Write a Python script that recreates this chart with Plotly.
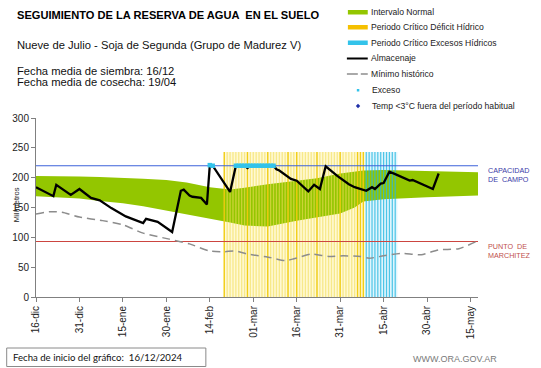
import plotly.graph_objects as go
import pandas as pd

# ---------------- data ----------------
tick_dates = ["2024-12-16", "2024-12-31", "2025-01-15", "2025-01-30", "2025-02-14", "2025-03-01",
              "2025-03-16", "2025-03-31", "2025-04-15", "2025-04-30", "2025-05-15"]
tick_labels = ["16-dic", "31-dic", "15-ene", "30-ene", "14-feb", "01-mar",
               "16-mar", "31-mar", "15-abr", "30-abr", "15-may"]

band_dates = ["2024-12-16", "2024-12-24", "2024-12-31", "2025-01-07", "2025-01-15", "2025-01-22",
              "2025-01-30", "2025-02-06", "2025-02-14", "2025-02-21", "2025-02-26", "2025-03-06",
              "2025-03-16", "2025-03-23", "2025-03-31", "2025-04-05", "2025-04-08", "2025-04-15",
              "2025-04-23", "2025-04-30", "2025-05-10", "2025-05-18"]
band_low = [169, 167, 165, 161, 157, 152, 145, 139, 131, 125, 120, 118,
            128, 133, 140, 150, 160, 164, 166, 167, 169, 170]
band_high = [203, 203, 202, 201, 200, 198, 196, 192, 184, 180, 183, 189,
             195, 199, 207, 210, 212, 213, 212, 211, 209, 209]

alm_dates = ["2024-12-16", "2024-12-22", "2024-12-23", "2024-12-28", "2024-12-31", "2025-01-04",
             "2025-01-07", "2025-01-11", "2025-01-16", "2025-01-20", "2025-01-22", "2025-01-23",
             "2025-01-25", "2025-01-27", "2025-02-01", "2025-02-04", "2025-02-05", "2025-02-07",
             "2025-02-08", "2025-02-09", "2025-02-11", "2025-02-13", "2025-02-14", "2025-02-15",
             "2025-02-21", "2025-02-23", "2025-02-26", "2025-02-27", "2025-02-28", "2025-03-08",
             "2025-03-09", "2025-03-10", "2025-03-14", "2025-03-16", "2025-03-20", "2025-03-22",
             "2025-03-24", "2025-03-26", "2025-03-30", "2025-04-03", "2025-04-05", "2025-04-09",
             "2025-04-11", "2025-04-12", "2025-04-14", "2025-04-15", "2025-04-17", "2025-04-19",
             "2025-04-24", "2025-04-25", "2025-05-02", "2025-05-04"]
alm_vals = [184, 169, 188, 171, 181, 166,
            162, 149, 135, 127, 124, 131,
            128, 126, 109, 178, 180, 170,
            168, 167, 166, 155, 221, 220,
            176, 220, 220, 216, 220, 220,
            214, 212, 198, 195, 177, 188,
            181, 219, 203, 189, 184, 178,
            184, 181, 190, 191, 210, 206,
            195, 196, 181, 207]

min_dates = ["2024-12-16", "2024-12-21", "2024-12-25", "2024-12-31", "2025-01-08", "2025-01-15",
             "2025-01-22", "2025-01-31", "2025-02-07", "2025-02-14", "2025-02-19", "2025-02-23",
             "2025-02-27", "2025-03-07", "2025-03-12", "2025-03-15", "2025-03-21", "2025-03-27",
             "2025-04-01", "2025-04-07", "2025-04-10", "2025-04-15", "2025-04-21", "2025-04-28",
             "2025-05-04", "2025-05-11", "2025-05-17"]
min_vals = [139, 143, 142, 134, 128, 121,
            107, 97, 89, 77, 76, 77,
            72, 66, 61, 64, 72, 68,
            69, 68, 65, 69, 73, 71,
            79, 81, 93]

exceso_dates = ["2025-02-14", "2025-02-15", "2025-02-23", "2025-02-24", "2025-02-25", "2025-02-26",
                "2025-02-27", "2025-02-28", "2025-03-01", "2025-03-02", "2025-03-03", "2025-03-04",
                "2025-03-05", "2025-03-06", "2025-03-07", "2025-03-08"]
exceso_vals = [221, 220, 220, 220, 220, 220, 220, 220, 220, 220, 220, 220, 220, 220, 220, 220]

deficit_start, deficit_end = "2025-02-19", "2025-04-08"
exceso_start, exceso_end = "2025-04-09", "2025-04-19"
deficit_strong = ["2025-02-19", "2025-02-27", "2025-03-06", "2025-03-13", "2025-03-16",
                  "2025-03-23", "2025-03-31", "2025-04-06", "2025-04-07", "2025-04-08"]
period_top = 243

capacidad_campo = 220
punto_marchitez = 93

x_start, x_end = "2024-12-16", "2025-05-17 14:00"

# ---------------- figure ----------------
FONT = "Liberation Sans, Arial, sans-serif"
W, H = 541, 368
L, R, T, B = 33, 478, 118, 297


def px(x):
    return (x - L) / (R - L)


def py(y):
    return (B - y) / (B - T)


fig = go.Figure()


def period_bg(start, end, bg):
    e = pd.Timestamp(end) + pd.Timedelta(hours=18)
    s = pd.Timestamp(start) - pd.Timedelta(hours=6)
    fig.add_trace(go.Scatter(x=[s, s, e, e, s], y=[0, period_top, period_top, 0, 0], mode="lines",
                             fill="toself", fillcolor=bg, line=dict(width=0), showlegend=False,
                             hoverinfo="skip"))


def stripe_lines(days, color, width):
    xs, ys = [], []
    for d in days:
        xs += [d, d, None]
        ys += [0, period_top, None]
    fig.add_trace(go.Scatter(x=xs, y=ys, mode="lines", line=dict(color=color, width=width),
                             showlegend=False, hoverinfo="skip"))


period_bg(deficit_start, deficit_end, "rgba(255,247,200,0.8)")
period_bg(exceso_start, exceso_end, "rgba(215,242,252,0.8)")

# normal interval band
fig.add_trace(go.Scatter(x=band_dates, y=band_low, mode="lines", line=dict(width=0, color="#93C600"),
                         showlegend=False, hoverinfo="skip"))
fig.add_trace(go.Scatter(x=band_dates, y=band_high, mode="lines", line=dict(width=0, color="#93C600"),
                         fill="tonexty", fillcolor="#93C600", showlegend=False, hoverinfo="skip"))

stripe_lines(pd.date_range(deficit_start, deficit_end, freq="D"), "rgba(242,222,90,0.6)", 1.3)
stripe_lines(deficit_strong, "rgba(240,200,0,0.85)", 1.3)
stripe_lines(pd.date_range(exceso_start, exceso_end, freq="D"), "rgba(40,185,225,0.8)", 1.2)

# reference lines
fig.add_trace(go.Scatter(x=[x_start, x_end], y=[capacidad_campo] * 2, mode="lines",
                         line=dict(color="#3D62DA", width=1.1), showlegend=False, hoverinfo="skip"))
fig.add_trace(go.Scatter(x=[x_start, x_end], y=[punto_marchitez] * 2, mode="lines",
                         line=dict(color="#CC4540", width=1.1), showlegend=False, hoverinfo="skip"))

# historical minimum
fig.add_trace(go.Scatter(x=min_dates, y=min_vals, mode="lines",
                         line=dict(color="#8C8C8C", width=1.5, dash="8px,5px", shape="spline",
                                   smoothing=0.6),
                         showlegend=False))
# storage
fig.add_trace(go.Scatter(x=alm_dates, y=alm_vals, mode="lines",
                         line=dict(color="#000000", width=2.3), showlegend=False))
# excess
fig.add_trace(go.Scatter(x=exceso_dates, y=exceso_vals, mode="markers",
                         marker=dict(color="#33C3EA", size=4.5, symbol="square"), showlegend=False))

fig.update_layout(
    width=W, height=H, margin=dict(l=L, r=W - R, t=T, b=H - B),
    paper_bgcolor="white", plot_bgcolor="white", showlegend=False,
    font=dict(family=FONT, color="#222"),
)
fig.update_xaxes(type="date", range=[x_start, x_end], tickvals=tick_dates, ticktext=tick_labels,
                 tickangle=-90, ticks="outside", ticklen=4, tickcolor="#808080",
                 showline=True, linecolor="#808080", linewidth=1, showgrid=False, zeroline=False,
                 tickfont=dict(size=10, color="#222", family=FONT))
fig.update_yaxes(range=[0, 300], dtick=50, ticks="outside", ticklen=4, tickcolor="#808080",
                 showline=True, linecolor="#808080", linewidth=1, showgrid=False, zeroline=False,
                 tickfont=dict(size=10, color="#222", family=FONT))

ann = []


def text(x, y, s, size, color="#111", bold=False, anchor="left", family=FONT, angle=0):
    ann.append(dict(x=px(x), y=py(y), xref="paper", yref="paper", text=("<b>%s</b>" % s) if bold else s,
                    showarrow=False, xanchor=anchor, yanchor="middle", textangle=angle,
                    font=dict(size=size, color=color, family=family)))


text(12, 15, "SEGUIMIENTO DE LA RESERVA DE AGUA  EN EL SUELO", 11.1, "#000", bold=True)
text(12, 45, "Nueve de Julio - Soja de Segunda (Grupo de Madurez V)", 11.2, "#111")
text(12, 71, "Fecha media de siembra: 16/12", 11.2, "#111")
text(12, 82, "Fecha media de cosecha: 19/04", 11.2, "#111")
text(13, 205, "Milímetros", 7.5, "#222", anchor="center", angle=-90)

text(486, 170, "CAPACIDAD", 7.2, "#3A3AA8")
text(486, 179, "DE  CAMPO", 7.2, "#3A3AA8")
text(486, 246.5, "PUNTO  DE", 7.2, "#C0504D")
text(486, 255.5, "MARCHITEZ", 7.2, "#C0504D")

text(8, 357, "Fecha de inicio del gráfico:  16/12/2024", 9.6, "#111", family="Lato, Open Sans, sans-serif")
text(411, 359, "WWW.ORA.GOV.AR", 9, "#7A7A7A")

# legend
leg_items = ["Intervalo Normal", "Periodo Crítico Déficit Hídrico", "Periodo Crítico Excesos Hídricos",
             "Almacenaje", "Mínimo histórico"]
leg_y = [12, 27, 43, 58.5, 74]
for s, y in zip(leg_items, leg_y):
    text(368.5, y, s, 8.6, "#222")
text(369, 90, "Exceso", 8.6, "#222")
text(369, 106, "Temp <3°C fuera del período habitual", 8.6, "#222")

shapes = []


def rect(x0, y0, x1, y1, color, line=None):
    shapes.append(dict(type="rect", xref="paper", yref="paper", x0=px(x0), x1=px(x1), y0=py(y1), y1=py(y0),
                       fillcolor=color, line=dict(width=0) if line is None else line, layer="above"))


def hline(x0, x1, y, color, width, dash="solid"):
    shapes.append(dict(type="line", xref="paper", yref="paper", x0=px(x0), x1=px(x1), y0=py(y), y1=py(y),
                       line=dict(color=color, width=width, dash=dash)))


rect(347, 10, 367, 14.5, "#93C600")
rect(347, 25, 367, 29.5, "#F5C000")
rect(347, 40.5, 367, 45, "#33C3EA")
hline(346, 367, 58.5, "#000", 2)
hline(346, 357, 74, "#8C8C8C", 1.5)
hline(360, 367, 74, "#8C8C8C", 1.5)
rect(356, 89, 358.5, 91.5, "#33C3EA")
shapes.append(dict(type="path", xref="paper", yref="paper",
                   path="M %f %f L %f %f L %f %f L %f %f Z" % (px(357.2), py(103.8), px(359.4), py(106),
                                                            px(357.2), py(108.2), px(355), py(106)),
                   fillcolor="#1F2FA8", line=dict(width=0)))
# bottom box
rect(3.5, 348, 204, 366.5, "rgba(0,0,0,0)", line=dict(color="#8A8A8A", width=1))

fig.update_layout(annotations=ann, shapes=shapes)
fig.write_html("out.html", config={"displayModeBar": False, "staticPlot": True},
               post_script="document.body.style.margin='0';document.body.style.padding='0';"
                           "document.documentElement.style.overflow='hidden';")
